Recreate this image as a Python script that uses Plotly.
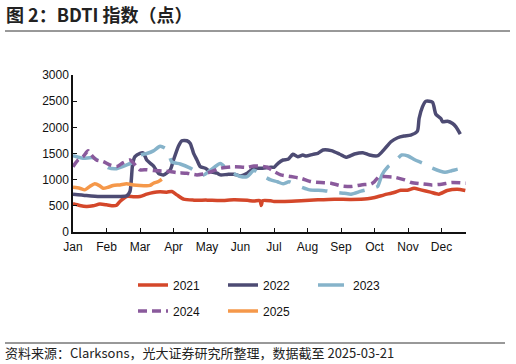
import plotly.graph_objects as go

months = ["Jan", "Feb", "Mar", "Apr", "May", "Jun", "Jul", "Aug", "Sep", "Oct", "Nov", "Dec"]
month_pos = list(range(12))

x2021 = [0, .2, .4, .6, .8, 1.0, 1.2, 1.3, 1.4, 1.6, 1.8, 2.0, 2.2, 2.4, 2.6, 2.8, 2.95, 3.1, 3.3, 3.6, 4.0, 4.4, 4.8, 5.2, 5.4, 5.58, 5.62, 5.66, 5.9,
         6.0, 6.32, 6.81, 7.31, 7.8, 8.3, 8.79, 9.01, 9.29, 9.58, 9.78, 9.98, 10.18, 10.38, 10.67, 10.92, 11.17, 11.47, 11.71]
y2021 = [539, 507, 488, 500, 533, 520, 500, 510, 583, 679, 675, 679, 723, 755, 767, 761, 775, 710, 628, 609, 609, 602, 615, 605, 590, 600, 507, 600, 595,
         583, 583, 596, 615, 628, 622, 634, 660, 710, 755, 799, 799, 837, 805, 761, 723, 793, 818, 793]

x2022 = [0, 0.4, 0.8, 1.2, 1.6, 1.7, 1.78, 1.85, 2.0, 2.1, 2.2, 2.4, 2.55, 2.7, 2.9, 3.0, 3.15, 3.25, 3.4, 3.5, 3.6, 3.7, 3.8, 3.95, 4.1, 4.3, 4.4, 4.6, 4.8, 5.0, 5.2, 5.4, 5.6, 5.9,
         6.0, 6.12, 6.27, 6.42, 6.56, 6.71, 6.86, 6.96, 7.16, 7.31, 7.46, 7.71, 7.95, 8.15, 8.4, 8.65, 8.85, 9.1, 9.29, 9.49, 9.69, 9.88, 10.08, 10.28, 10.33, 10.43, 10.53,
         10.73, 10.83, 10.98, 11.03, 11.18, 11.33, 11.43, 11.56]
y2022 = [723, 698, 679, 679, 691, 774, 1300, 1440, 1503, 1510, 1376, 1262, 1123, 1091, 1186, 1376, 1643, 1744, 1744, 1693, 1503, 1376, 1249, 1218, 1154, 1123, 1091, 1100, 1105, 1072, 1123, 1218, 1218, 1237,
         1237, 1313, 1376, 1389, 1484, 1440, 1471, 1450, 1484, 1503, 1566, 1554, 1490, 1427, 1490, 1516, 1471, 1459, 1579, 1725, 1801, 1833, 1852, 1928, 2169, 2391, 2499,
         2480, 2251, 2169, 2106, 2118, 2074, 2010, 1871]

x2023 = [0, 0.3, 0.6, 0.9, 1.05, 1.3, 1.6, 1.8, 2.0, 2.2, 2.4, 2.6, 2.8,
         2.95, 3.2, 3.5, 3.75, 3.9, 4.1, 4.4, 4.6, 4.8, 5.0, 5.2, 5.4, 5.55,
         5.9, 6.1, 6.27, 6.45, 6.66, 6.85, 7.06, 7.5, 7.85, 8.1, 8.3, 8.6, 8.9, 9.09, 9.22, 9.4, 9.6, 9.81, 10.0, 10.2, 10.45, 10.7, 11.1, 11.3, 11.5, 11.65]
y2023 = [1460, 1410, 1420, 1300, 1230, 1210, 1280, 1340, 1470, 1500, 1550, 1640, 1580,
         1340, 1300, 1220, 1130, 1090, 1180, 1310, 1200, 1120, 1060, 1060, 1180, 1120,
         994, 960, 920, 960, 900, 850, 805, 790, 755, 740, 723, 780, 830, 869, 1089, 1248, 1344, 1471, 1452, 1380, 1312, 1229, 1140, 1170, 1204, 1204]

x2024 = [0, 0.15, 0.3, 0.45, 0.55, 0.7, 0.9, 1.1, 1.3, 1.5, 1.7, 1.9, 2.0, 2.2, 2.4, 2.7, 2.9, 3.1, 3.4, 3.7, 4.0, 4.4, 4.8, 5.2, 5.4, 5.8,
         5.92, 6.2, 6.5, 6.8, 7.1, 7.4, 7.7, 8.0, 8.3, 8.6, 8.9, 9.0, 9.14, 9.3, 9.6, 9.9, 10.1, 10.4, 10.7, 11.0, 11.3, 11.72]
y2024 = [1249, 1376, 1440, 1554, 1470, 1376, 1345, 1281, 1249, 1325, 1376, 1249, 1186, 1190, 1173, 1165, 1154, 1135, 1123, 1091, 1123, 1218, 1249, 1237, 1262, 1237,
         1186, 1091, 1059, 1027, 964, 945, 932, 882, 869, 900, 920, 964, 1059, 1059, 1046, 996, 945, 920, 900, 913, 945, 932]

x2025 = [0, 0.2, 0.35, 0.5, 0.65, 0.8, 0.9, 1.05, 1.2, 1.4, 1.6, 1.8, 2.0, 2.2, 2.3, 2.4, 2.55, 2.65]
y2025 = [856, 837, 805, 869, 920, 882, 837, 856, 888, 900, 920, 900, 888, 882, 890, 932, 964, 1008]

y_ticks = [0, 500, 1000, 1500, 2000, 2500, 3000]

title_text = "图 2：BDTI 指数（点）"
source_text = "资料来源：Clarksons，光大证券研究所整理，数据截至 2025-03-21"

series = [
    ("2021", x2021, y2021, "#D4472A", "solid", "legend"),
    ("2022", x2022, y2022, "#4D4B73", "solid", "legend"),
    ("2023", x2023, y2023, "#86B3CA", "26px,12px", "legend"),
    ("2024", x2024, y2024, "#8A5A9C", "9px,5px", "legend2"),
    ("2025", x2025, y2025, "#F5984A", "solid", "legend2"),
]

fig = go.Figure()
for name, xs, ys, color, dash, lg in series:
    fig.add_trace(go.Scatter(
        x=xs, y=ys, name=name, mode="lines",
        line=dict(color=color, width=3.5, dash=dash, shape="spline", smoothing=0.6),
        legend=lg,
    ))

W, H = 516, 364
L, R, T, B = 73, 50, 75, 132
pw, ph = W - L - R, H - T - B

def px(xp):
    return (xp - L) / pw

def py(yp):
    return (H - B - yp) / ph

axis_font = dict(family="Liberation Sans, Arial, sans-serif", size=12, color="#111111")

fig.update_layout(
    width=W, height=H,
    margin=dict(l=L, r=R, t=T, b=B),
    paper_bgcolor="white", plot_bgcolor="white",
    xaxis=dict(
        range=[0, 11.73], tickvals=month_pos, ticktext=months,
        showgrid=False, zeroline=False, showline=True, linecolor="#111111", linewidth=1.5,
        ticks="inside", ticklen=4, tickcolor="#111111", tickfont=axis_font,
        ticklabelstandoff=3,
    ),
    yaxis=dict(
        range=[0, 3000], tickvals=y_ticks,
        showgrid=False, zeroline=False, showline=True, linecolor="#111111", linewidth=1.5,
        ticks="inside", ticklen=4, tickcolor="#111111", tickfont=axis_font,
    ),
    legend=dict(orientation="h", x=px(133), y=py(285), xanchor="left", yanchor="middle",
                entrywidth=45, font=axis_font, bgcolor="rgba(0,0,0,0)"),
    legend2=dict(orientation="h", x=px(133), y=py(311), xanchor="left", yanchor="middle",
                 entrywidth=45, font=axis_font, bgcolor="rgba(0,0,0,0)"),
    showlegend=True,
)

fig.add_annotation(text="<b>" + title_text + "</b>", xref="paper", yref="paper",
                   x=px(4), y=py(14), xanchor="left", yanchor="middle", showarrow=False,
                   font=dict(family="Noto Sans CJK SC, sans-serif", size=18, color="#222222"))
fig.add_annotation(text=source_text, xref="paper", yref="paper",
                   x=px(3), y=py(352), xanchor="left", yanchor="middle", showarrow=False,
                   font=dict(family="Noto Sans CJK SC, sans-serif", size=13, color="#222222"))
fig.add_shape(type="line", xref="paper", yref="paper", x0=px(5), x1=px(510), y0=py(31), y1=py(31),
              line=dict(color="#333333", width=1))
fig.add_shape(type="line", xref="paper", yref="paper", x0=px(5), x1=px(505), y0=py(343), y1=py(343),
              line=dict(color="#333333", width=1))

fig.write_html("out.html", config={"displayModeBar": False},
               post_script="document.body.style.margin='0px';")
